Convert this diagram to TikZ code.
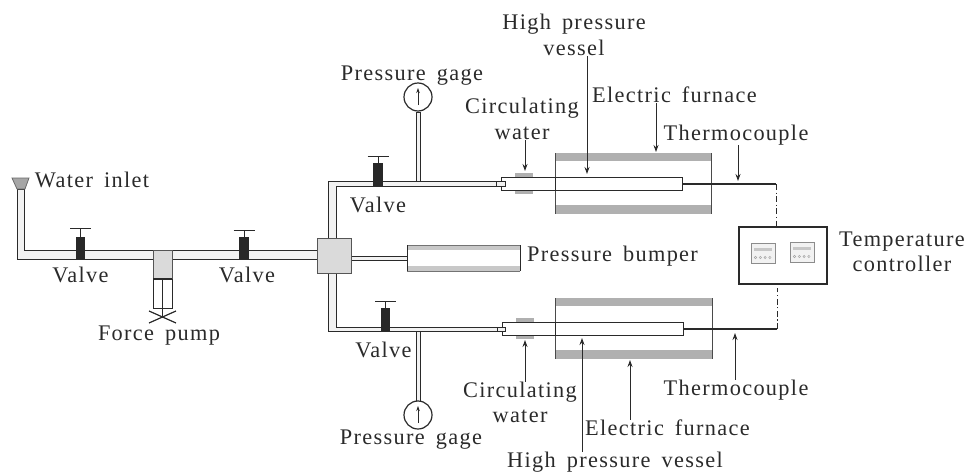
\documentclass[tikz,border=0pt]{standalone}
\usepackage{fontspec}
\setmainfont[LetterSpace=6,WordSpace=1.6]{Liberation Serif}
\usetikzlibrary{arrows.meta}
\definecolor{ink}{HTML}{2A2A2A}
\definecolor{band}{HTML}{B0B0B0}
\definecolor{boxgray}{HTML}{DADADA}
\definecolor{pipefill}{HTML}{F2F2F2}
\tikzset{
 x=1pt,y=-1pt,
 lbl/.style={inner sep=0pt,text=ink,align=center,font=\fontsize{22.3}{25.5}\selectfont},
 pipe/.style={draw=ink,line width=.85pt,fill=pipefill},
 thin pipe/.style={draw=ink,line width=1pt,fill=white},
 gbox/.style={draw=ink!80,line width=1pt,fill=boxgray},
 band fill/.style={fill=band,draw=none},
 vbody/.style={fill=ink!95!black,draw=none},
 vstem/.style={draw=ink,line width=1pt},
 leader/.style={draw=ink,line width=.9pt,-{Stealth[length=7pt,width=5pt]}},
 wire/.style={draw=ink,line width=1.4pt},
 ctrl/.style={draw=ink,line width=.9pt,dash pattern=on 6pt off 2.5pt on 1.2pt off 2.5pt},
 panel/.style={draw=black!45,line width=.9pt,fill=black!5},
 gauge/.style={circle,draw=ink,line width=1.2pt,fill=white,minimum size=28pt,inner sep=0pt},
}
\newcommand{\valvedraw}[5]{% xl xr ytop ybot yhandle
  \fill[vbody] (#1,#3) rectangle (#2,#4);
  \draw[vstem] ({(#1+#2)/2},#3) -- ({(#1+#2)/2},#5);
  \draw[vstem] ({(#1+#2)/2-10.5},#5) -- ({(#1+#2)/2+10.5},#5);
}
\begin{document}
\begin{tikzpicture}
\useasboundingbox (0,0) rectangle (968,474);
% funnel and inlet pipe
\filldraw[pipe] (17,259) -- (17,189) -- (24,189) -- (24,250) -- (153,250) -- (153,259) -- cycle;
\filldraw[draw=ink!70,line width=.8pt,fill=black!35] (12,178) -- (29,178) -- (25,189) -- (17,189) -- cycle;
% main line
\filldraw[pipe] (172,250) rectangle (318,259);
\valvedraw{76}{85}{237}{259}{228}
\valvedraw{239}{249}{237}{259}{230}
% force pump
\filldraw[gbox] (153,250) rectangle (172,279);
\filldraw[draw=ink,line width=1pt,fill=white] (153,279) rectangle (172,308);
\draw[ink,line width=2pt] (153,279) -- (172,279);
\draw[ink,line width=1pt] (162.5,279) -- (162.5,317);
\draw[ink,line width=1.2pt] (149,311) -- (176,323) (149,323) -- (176,311);
% branch pipes
\filldraw[pipe] (328,238) -- (328,181) -- (505,181) -- (505,186) -- (336,186) -- (336,238) -- cycle;
\filldraw[pipe] (328,273) -- (328,331) -- (505,331) -- (505,327) -- (336,327) -- (336,273) -- cycle;
\filldraw[pipe] (351,256) rectangle (407,260);
\node[gbox,minimum width=34pt,minimum height=35pt,inner sep=0pt] (hub) at (334,255.5) {};
% upper gauge
\filldraw[pipe] (416,181.5) rectangle (420,112);
\node[gauge] (gaugeU) at (418,97) {};
\draw[ink,line width=.8pt,-{Stealth[length=5pt,width=3.5pt]}] (418,105) -- (418,88);
\valvedraw{373}{383}{163}{186}{156}
% lower gauge
\filldraw[pipe] (416,331) rectangle (420,401);
\node[gauge] (gaugeL) at (418,415) {};
\draw[ink,line width=.8pt,-{Stealth[length=5pt,width=3.5pt]}] (418,423) -- (418,406);
\valvedraw{381}{390}{308}{331}{301}
% bumper
\fill[band!70] (407,245) rectangle (520,271);
\fill[white] (407,250) rectangle (520,266);
\draw[draw=black!55,line width=.9pt] (520,245) -- (407,245) -- (407,271) -- (520,271);
\draw[ink,line width=1pt] (407,245) -- (407,271) (520,245) -- (520,271);
% upper furnace
\fill[band fill] (515,173) rectangle (533,194);
\fill[band fill] (555,153) rectangle (711,161);
\fill[band fill] (555,205) rectangle (711,214);
\draw[ink!85,line width=1pt] (555,153) -- (555,214) (711,153) -- (711,214);
\filldraw[thin pipe] (501,177) rectangle (682,190);
\draw[ink,line width=1pt] (555,177) -- (555,190);
\filldraw[pipe] (496,181) rectangle (505,186);
% lower furnace
\fill[band fill] (516,318) rectangle (534,339);
\fill[band fill] (555,298) rectangle (712,306);
\fill[band fill] (555,350) rectangle (712,359);
\draw[ink!85,line width=1pt] (555,298) -- (555,359) (712,298) -- (712,359);
\filldraw[thin pipe] (502,322) rectangle (683,335);
\draw[ink,line width=1pt] (555,322) -- (555,335);
\filldraw[pipe] (497,327) rectangle (505,331);
% controller
\node[draw=ink,line width=1.2pt,fill=white,minimum width=88pt,minimum height=57pt,inner sep=0pt] (ctrlbox) at (783,255.5) {};
\foreach \xa/\ya in {751/243,790/242}{
  \filldraw[panel] (\xa,\ya) rectangle ++(24,20);
  \fill[black!22] (\xa+3,\ya+5) rectangle ++(18,2.5);
  \foreach \k in {0,1,2,3} \draw[black!35,line width=.5pt] (\xa+4.5+\k*4.8,\ya+14.5) circle (1.2);
}
% thermocouple wires
\coordinate (tcU) at (682,184);
\coordinate (cornerU) at (776,184);
\coordinate (tcL) at (683,329);
\coordinate (cornerL) at (777,329);
\draw[wire] (tcU) -- (cornerU);
\draw[wire] (tcL) -- (cornerL);
\draw[ctrl] (cornerU) -- (ctrlbox.north -| cornerU);
\draw[ctrl] (cornerL) -- (777,288);
% labels
\node[lbl] (lHP) at (574,35) {High pressure\\vessel};
\node[lbl] (lPG) at (412,76) {Pressure  gage};
\node[lbl] (lEF) at (674.5,95) {Electric furnace};
\node[lbl] (lCW) at (522,119) {Circulating\\water};
\node[lbl] (lTC) at (736,135) {Thermocouple};
\node[lbl] (lWI) at (92,180) {Water  inlet};
\node[lbl] (lV1) at (80.5,275) {Valve};
\node[lbl] (lV2) at (247,275) {Valve};
\node[lbl] (lV3) at (378,205) {Valve};
\node[lbl] (lV4) at (383.5,350) {Valve};
\node[lbl] (lFP) at (159,336) {Force pump};
\node[lbl] (lPB) at (612.5,256) {Pressure  bumper};
\node[lbl] (lTe) at (902,252) {Temperature\\controller};
\node[lbl] (lCWb) at (520,402.5) {Circulating\\water};
\node[lbl] (lTCb) at (736,390) {Thermocouple};
\node[lbl] (lPGb) at (411,440) {Pressure  gage};
\node[lbl] (lEFb) at (667.5,428) {Electric furnace};
\node[lbl] (lHPb) at (615,462.5) {High pressure vessel};
% leaders
\coordinate (a1) at (587,174);
\coordinate (a2) at (525,171);
\coordinate (a3) at (656,152);
\coordinate (a4) at (738,181);
\coordinate (b1) at (525,340);
\coordinate (b2) at (582,338);
\coordinate (b3) at (630,360);
\coordinate (b4) at (735,333);
\draw[leader] (a1 |- lHP.south) -- (a1);
\draw[leader] (a2 |- lCW.south) -- (a2);
\draw[leader] (a3 |- lEF.south) -- (a3);
\draw[leader] (a4 |- lTC.south) -- (a4);
\draw[leader] (b1 |- lCWb.north) -- (b1);
\draw[leader] (b2 |- lHPb.north) -- (b2);
\draw[leader] (b3 |- lEFb.north) -- (b3);
\draw[leader] (b4 |- lTCb.north) -- (b4);
\end{tikzpicture}
\end{document}
